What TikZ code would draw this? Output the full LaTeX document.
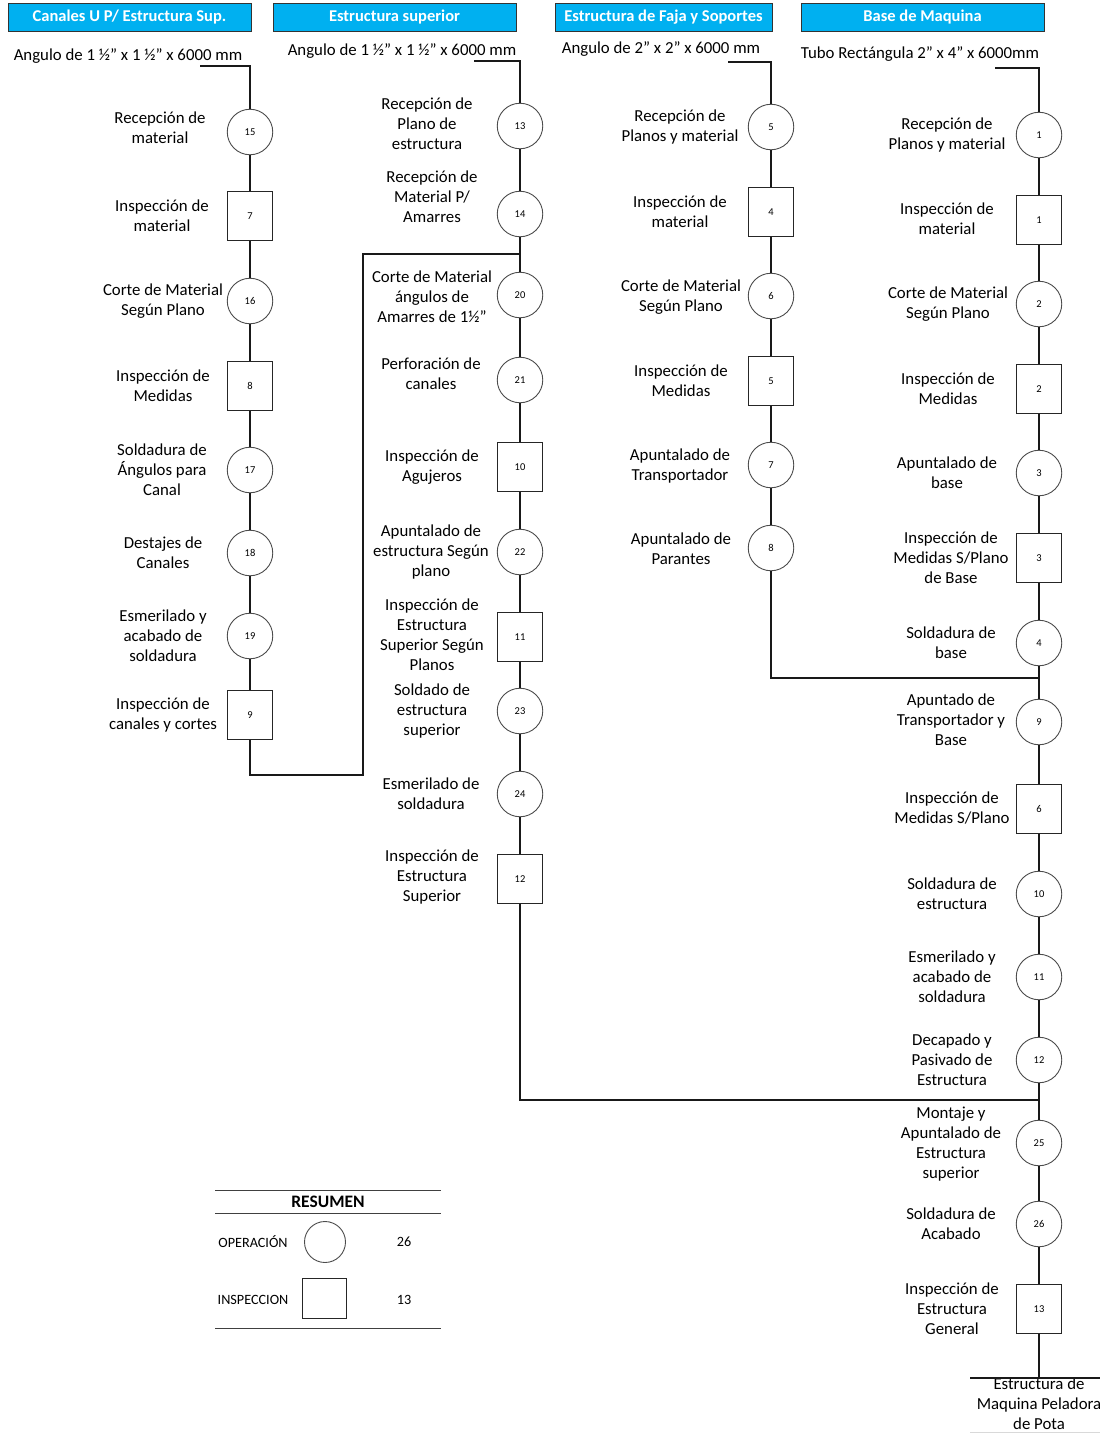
\documentclass[tikz,border=0pt]{standalone}
\usepackage{fontspec}
\setmainfont{Carlito}
\definecolor{hdrblue}{HTML}{00B0F0}
\newcommand{\sq}{\symbol{34}}
\begin{document}
\begin{tikzpicture}[x=1pt,y=-1pt,
  hdr/.style={draw=black!80,fill=hdrblue,line width=0.9pt},
  hdrtxt/.style={text=white,font=\fontsize{16.5}{18}\selectfont\bfseries},
  mat/.style={font=\fontsize{16.8}{19}\selectfont},
  lbl/.style={align=center,font=\fontsize{16.8}{20}\selectfont,inner sep=0pt},
  op/.style={circle,draw=black!70,line width=0.9pt,minimum size=45.5pt,inner sep=0pt,font=\fontsize{10.5}{11}\selectfont},
  insp/.style={rectangle,draw=black!85,line width=0.9pt,minimum width=45.5pt,minimum height=48.5pt,inner sep=0pt,font=\fontsize{10.5}{11}\selectfont},
  flow/.style={draw=black!90,line width=1.1pt},
  rule/.style={draw=black!75,line width=1pt},
  sumtxt/.style={font=\fontsize{14.2}{16}\selectfont}]
\useasboundingbox (0,0) rectangle (1100,1433);

% ---- headers ----
\draw[hdr] (8,3) rectangle (251,31);
\node[hdrtxt] (h1) at (129.5,17) {Canales U P/ Estructura Sup.};
\draw[hdr] (273,3) rectangle (516,31);
\node[hdrtxt] (h2) at (394.5,17) {Estructura superior};
\draw[hdr] (555,3) rectangle (772,31);
\node[hdrtxt] (h3) at (663.5,17) {Estructura de Faja y Soportes};
\draw[hdr] (801,3) rectangle (1044,31);
\node[hdrtxt] (h4) at (922.5,17) {Base de Maquina};

% ---- raw material ----
\node[mat] (m1) at (128,56) {Angulo de 1 ½” x 1 ½” x 6000 mm};
\node[mat] (m2) at (402,51) {Angulo de 1 ½” x 1 ½” x 6000 mm};
\node[mat] (m3) at (661,49) {Angulo de 2” x 2” x 6000 mm};
\node[mat] (m4) at (920,54) {Tubo Rectángula 2\sq{} x 4\sq{} x 6000mm};
\coordinate (s1) at (200,66);
\coordinate (s2) at (474,61);
\coordinate (s3) at (728,62);
\coordinate (s4) at (995,68);

% ---- column 1: Canales U ----
\node[op]   (a15) at (250,132) {15};
\node[insp] (a7)  at (250,216) {7};
\node[op]   (a16) at (250,301) {16};
\node[insp] (a8)  at (250,386) {8};
\node[op]   (a17) at (250,470) {17};
\node[op]   (a18) at (250,553) {18};
\node[op]   (a19) at (250,636) {19};
\node[insp] (a9)  at (250,715) {9};
\node[lbl] (la15) at (160,128) {Recepción de\\material};
\node[lbl] (la7)  at (162,216) {Inspección de\\material};
\node[lbl] (la16) at (163,301) {Corte de Material\\Según Plano};
\node[lbl] (la8)  at (163,386) {Inspección de\\Medidas};
\node[lbl] (la17) at (162,470) {Soldadura de\\Ángulos para\\Canal};
\node[lbl] (la18) at (163,553) {Destajes de\\Canales};
\node[lbl] (la19) at (163,636) {Esmerilado y\\acabado de\\soldadura};
\node[lbl] (la9)  at (163,715) {Inspección de\\canales y cortes};

% ---- column 2: Estructura superior ----
\node[op]   (b13) at (520,126) {13};
\node[op]   (b14) at (520,214) {14};
\node[op]   (b20) at (520,295) {20};
\node[op]   (b21) at (520,380) {21};
\node[insp] (b10) at (520,467) {10};
\node[op]   (b22) at (520,552) {22};
\node[insp] (b11) at (520,637) {11};
\node[op]   (b23) at (520,711) {23};
\node[op]   (b24) at (520,794) {24};
\node[insp] (b12) at (520,879) {12};
\node[lbl] (lb13) at (427,124) {Recepción de\\Plano de\\estructura};
\node[lbl] (lb14) at (432,197) {Recepción de\\Material P/\\Amarres};
\node[lbl] (lb20) at (432,297) {Corte de Material\\ángulos de\\Amarres de 1½”};
\node[lbl] (lb21) at (431,374) {Perforación de\\canales};
\node[lbl] (lb10) at (432,467) {Inspección de\\Agujeros};
\node[lbl] (lb22) at (431,552) {Apuntalado de\\estructura Según\\plano};
\node[lbl] (lb11) at (432,635) {Inspección de\\Estructura\\Superior Según\\Planos};
\node[lbl] (lb23) at (432,711) {Soldado de\\estructura\\superior};
\node[lbl] (lb24) at (431,794) {Esmerilado de\\soldadura};
\node[lbl] (lb12) at (432,877) {Inspección de\\Estructura\\Superior};

% ---- column 3: Faja y soportes ----
\node[op]   (c5)  at (771,127) {5};
\node[insp] (c4)  at (771,212) {4};
\node[op]   (c6)  at (771,296) {6};
\node[insp] (c5s) at (771,381) {5};
\node[op]   (c7)  at (771,465) {7};
\node[op]   (c8)  at (771,548) {8};
\node[lbl] (lc5)  at (680,127) {Recepción de\\Planos y material};
\node[lbl] (lc4)  at (680,212) {Inspección de\\material};
\node[lbl] (lc6)  at (681,297) {Corte de Material\\Según Plano};
\node[lbl] (lc5s) at (681,381) {Inspección de\\Medidas};
\node[lbl] (lc7)  at (680,466) {Apuntalado de\\Transportador};
\node[lbl] (lc8)  at (681,549) {Apuntalado de\\Parantes};

% ---- column 4: Base de maquina ----
\node[op]   (d1)  at (1039,135) {1};
\node[insp] (d1s) at (1039,220) {1};
\node[op]   (d2)  at (1039,304) {2};
\node[insp] (d2s) at (1039,389) {2};
\node[op]   (d3)  at (1039,473) {3};
\node[insp] (d3s) at (1039,558) {3};
\node[op]   (d4)  at (1039,643) {4};
\node[op]   (d9)  at (1039,722) {9};
\node[insp] (d6s) at (1039,809) {6};
\node[op]   (d10) at (1039,894) {10};
\node[op]   (d11) at (1039,977) {11};
\node[op]   (d12) at (1039,1060) {12};
\node[op]   (d25) at (1039,1143) {25};
\node[op]   (d26) at (1039,1224) {26};
\node[insp] (d13s) at (1039,1309) {13};
\node[lbl] (ld1)  at (947,135) {Recepción de\\Planos y material};
\node[lbl] (ld1s) at (947,219) {Inspección de\\material};
\node[lbl] (ld2)  at (948,304) {Corte de Material\\Según Plano};
\node[lbl] (ld2s) at (948,389) {Inspección de\\Medidas};
\node[lbl] (ld3)  at (947,473) {Apuntalado de\\base};
\node[lbl] (ld3s) at (951,558) {Inspección de\\Medidas S/Plano\\de Base};
\node[lbl] (ld4)  at (951,643) {Soldadura de\\base};
\node[lbl] (ld9)  at (951,720) {Apuntado de\\Transportador y\\Base};
\node[lbl] (ld6s) at (952,808) {Inspección de\\Medidas S/Plano};
\node[lbl] (ld10) at (952,894) {Soldadura de\\estructura};
\node[lbl] (ld11) at (952,977) {Esmerilado y\\acabado de\\soldadura};
\node[lbl] (ld12) at (952,1060) {Decapado y\\Pasivado de\\Estructura};
\node[lbl] (ld25) at (951,1144) {Montaje y\\Apuntalado de\\Estructura\\superior};
\node[lbl] (ld26) at (951,1224) {Soldadura de\\Acabado};
\node[lbl] (ld13s) at (952,1309) {Inspección de\\Estructura\\General};

% ---- final product ----
\coordinate (e0) at (1039,1378);
\coordinate (eL) at (970,1378);
\coordinate (eR) at (1100,1378);
\node[lbl] (fin) at (1039,1404) {Estructura de\\Maquina Peladora\\de Pota};
\draw[black!15,line width=0.8pt] (970,1432) -- (1100,1432);

% ---- flow lines ----
\draw[flow] (s1) -| (a15);
\draw[flow] (a15) -- (a7) -- (a16) -- (a8) -- (a17) -- (a18) -- (a19) -- (a9);
\coordinate (j1a) at (250,775);
\coordinate (j1b) at (363,254);
\coordinate (j1c) at (520,254);
\draw[flow] (a9) -- (j1a) -| (j1b) -- (j1c);

\draw[flow] (s2) -| (b13);
\draw[flow] (b13) -- (b14) -- (b20) -- (b21) -- (b10) -- (b22) -- (b11) -- (b23) -- (b24) -- (b12);
\coordinate (j2a) at (520,1100);
\coordinate (j2b) at (1039,1100);
\draw[flow] (b12) -- (j2a) -- (j2b);

\draw[flow] (s3) -| (c5);
\draw[flow] (c5) -- (c4) -- (c6) -- (c5s) -- (c7) -- (c8);
\coordinate (j3) at (1039,678);
\draw[flow] (c8) |- (j3);

\draw[flow] (s4) -| (d1);
\draw[flow] (d1) -- (d1s) -- (d2) -- (d2s) -- (d3) -- (d3s) -- (d4) -- (d9) -- (d6s) -- (d10) -- (d11) -- (d12) -- (d25) -- (d26) -- (d13s);
\draw[flow] (d13s) -- (e0);
\draw[flow] (eL) -- (eR);

% ---- summary table ----
\draw[rule] (215,1190) -- (441,1190);
\draw[rule] (215,1213) -- (441,1213);
\draw[rule] (215,1328) -- (441,1328);
\node[font=\fontsize{17.5}{19}\selectfont\bfseries] (rs) at (328,1202) {RESUMEN};
\node[sumtxt] (ro) at (253,1242) {OPERACIÓN};
\node[circle,draw=black!70,line width=0.9pt,minimum size=41pt,inner sep=0pt] (rc) at (325,1242) {};
\node[sumtxt] (rn1) at (404,1242) {26};
\node[sumtxt] (ri) at (253,1300) {INSPECCION};
\node[rectangle,draw=black!85,line width=0.9pt,minimum width=44pt,minimum height=40pt,inner sep=0pt] (rq) at (324,1298.5) {};
\node[sumtxt] (rn2) at (404,1300) {13};
\end{tikzpicture}
\end{document}
